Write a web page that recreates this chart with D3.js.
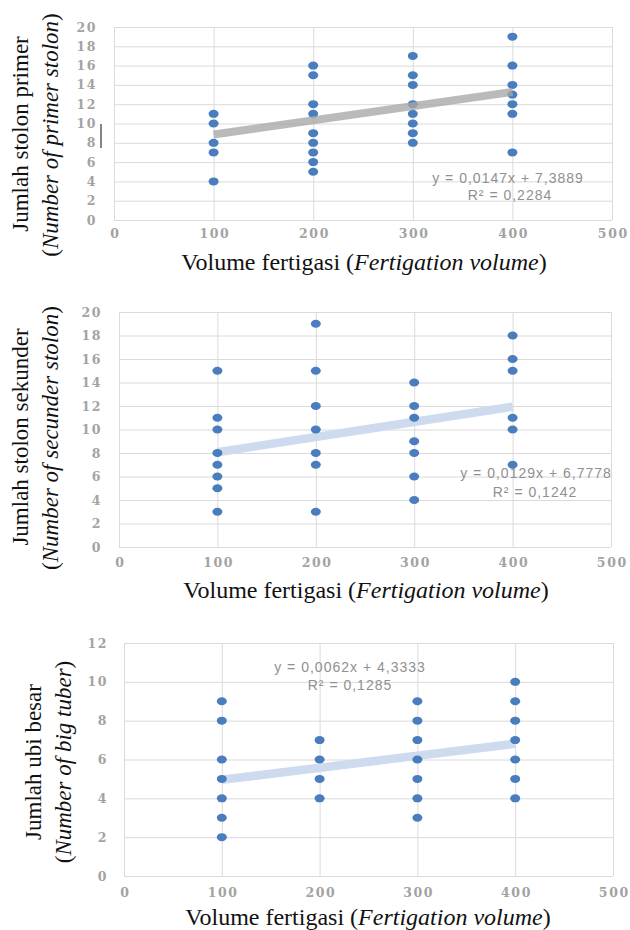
<!DOCTYPE html>
<html>
<head>
<meta charset="utf-8">
<script src="https://cdn.jsdelivr.net/npm/d3@7"></script>
<style>
  html, body { margin: 0; padding: 0; background: #ffffff; }
  svg { display: block; }
  .tick text { font-family: "DejaVu Serif", serif; font-weight: bold; font-size: 12.5px; fill: #a3a3a3; letter-spacing: 1.6px; }
  .tick line { stroke: #dadada; stroke-width: 1; }
  .title { font-family: "Liberation Serif", "Times New Roman", serif; font-size: 23px; fill: #111; }
  .xtitle { font-size: 24px; }
  .eq { font-family: "Liberation Sans", Arial, sans-serif; font-size: 14px; fill: #909090; letter-spacing: 1px; }
</style>
</head>
<body>
<svg id="chart" width="630" height="930"></svg>
<script>
// ---------- DATA ----------
const volumes = [100, 200, 300, 400];
const xTicks = [0, 100, 200, 300, 400, 500];

// Panel 1: number of primer stolon (values at each volume)
const primerStolon = [
  [11, 10, 8, 7, 4],
  [16, 15, 12, 11, 9, 8, 7, 6, 5],
  [17, 15, 14, 12, 11, 10, 9, 8],
  [19, 16, 14, 13, 12, 11, 7]
];
// Panel 2: number of secunder stolon
const secunderStolon = [
  [15, 11, 10, 8, 7, 6, 5, 3],
  [19, 15, 12, 10, 8, 7, 3],
  [14, 12, 11, 9, 8, 6, 4],
  [18, 16, 15, 11, 10, 7]
];
// Panel 3: number of big tuber
const bigTuber = [
  [9, 8, 6, 5, 4, 3, 2],
  [7, 6, 5, 4],
  [9, 8, 7, 6, 5, 4, 3],
  [10, 9, 8, 7, 6, 5, 4]
];

const yTicksStolon = [0, 2, 4, 6, 8, 10, 12, 14, 16, 18, 20];
const yTicksTuber = [0, 2, 4, 6, 8, 10, 12];

const trendSlopes = [0.0147, 0.0129, 0.0062];
const trendIntercepts = [7.3889, 6.7778, 4.3333];
const equationLabels = ["y = 0,0147x + 7,3889", "y = 0,0129x + 6,7778", "y = 0,0062x + 4,3333"];
const r2Labels = ["R² = 0,2284", "R² = 0,1242", "R² = 0,1285"];

const yTitles = ["Jumlah stolon primer", "Jumlah stolon sekunder", "Jumlah ubi besar"];
const yTitlesEn = ["Number of primer stolon", "Number of secunder stolon", "Number of big tuber"];
const xTitle = "Volume fertigasi";
const xTitleEn = "Fertigation volume";

// ---------- LAYOUT ----------
const panels = [
  { data: primerStolon, yTicks: yTicksStolon, left: 114, right: 612, top: 27, bottom: 220,
    yPad: 17, xPad: 14, trendColor: "#a6a6a6", trendOpacity: 0.78, trendWidth: 8, trendOver: true,
    eq: [508, 183], r2: [510, 200], yT1: [20, 134], yT2: [50, 135], xT: [364, 270], stray: true },
  { data: secunderStolon, yTicks: yTicksStolon, left: 119, right: 611, top: 312, bottom: 547,
    yPad: 17, xPad: 16, trendColor: "#cedbee", trendOpacity: 1, trendWidth: 8.5, trendOver: false,
    eq: [536, 478], r2: [535, 497], yT1: [20, 437], yT2: [50, 438], xT: [366, 598], stray: false },
  { data: bigTuber, yTicks: yTicksTuber, left: 124, right: 613, top: 643, bottom: 876,
    yPad: 16, xPad: 17, trendColor: "#cedbee", trendOpacity: 1, trendWidth: 8.5, trendOver: false,
    eq: [350, 672], r2: [350, 690], yT1: [33, 762], yT2: [63, 762], xT: [368, 925], stray: false }
];

const svg = d3.select("#chart");

panels.forEach((p, i) => {
  const g = svg.append("g");
  const x = d3.scaleLinear().domain([0, 500]).range([p.left, p.right]);
  const yMax = d3.max(p.yTicks);
  const y = d3.scaleLinear().domain([0, yMax]).range([p.bottom, p.top]);

  // gridlines + tick labels via axes
  const yAxis = d3.axisLeft(y).tickValues(p.yTicks).tickSize(-(p.right - p.left)).tickPadding(p.yPad).tickFormat(d3.format("d"));
  const xAxis = d3.axisBottom(x).tickValues(xTicks).tickSize(-(p.bottom - p.top)).tickPadding(p.xPad).tickFormat(d3.format("d"));

  const gy = g.append("g").attr("transform", `translate(${p.left},0)`).call(yAxis);
  gy.select(".domain").remove();
  const gx = g.append("g").attr("transform", `translate(0,${p.bottom})`).call(xAxis);
  gx.select(".domain").remove();
  gx.selectAll(".tick text").attr("dy", "0.35em").attr("dx", "0.8px");

  // trend line
  const x0 = d3.min(volumes), x1 = d3.max(volumes);
  const drawTrend = () => g.append("line")
    .attr("x1", x(x0)).attr("y1", y(trendSlopes[i] * x0 + trendIntercepts[i]))
    .attr("x2", x(x1)).attr("y2", y(trendSlopes[i] * x1 + trendIntercepts[i]))
    .attr("stroke", p.trendColor).attr("stroke-opacity", p.trendOpacity)
    .attr("stroke-width", p.trendWidth);

  if (!p.trendOver) drawTrend();

  // points
  const pts = [];
  p.data.forEach((vals, k) => vals.forEach(v => pts.push({ x: volumes[k], y: v })));
  g.append("g").selectAll("ellipse").data(pts).join("ellipse")
    .attr("cx", d => x(d.x)).attr("cy", d => y(d.y))
    .attr("rx", 5).attr("ry", 4)
    .attr("fill", "#4a7dbd");

  if (p.trendOver) drawTrend();

  // equation
  g.append("text").attr("class", "eq").attr("x", p.eq[0]).attr("y", p.eq[1]).attr("text-anchor", "middle").text(equationLabels[i]);
  g.append("text").attr("class", "eq").attr("x", p.r2[0]).attr("y", p.r2[1]).attr("text-anchor", "middle").text(r2Labels[i]);

  // y titles
  g.append("text").attr("class", "title")
    .attr("transform", `translate(${p.yT1[0]},${p.yT1[1]}) rotate(-90)`)
    .attr("text-anchor", "middle").attr("dy", "0.35em").text(yTitles[i]);
  const t2 = g.append("text").attr("class", "title")
    .attr("transform", `translate(${p.yT2[0]},${p.yT2[1]}) rotate(-90)`)
    .attr("text-anchor", "middle").attr("dy", "0.35em");
  t2.append("tspan").text("(");
  t2.append("tspan").attr("font-style", "italic").text(yTitlesEn[i]);
  t2.append("tspan").text(")");

  // x title
  const xt = g.append("text").attr("class", "title xtitle").attr("x", p.xT[0]).attr("y", p.xT[1]).attr("text-anchor", "middle");
  xt.append("tspan").text(xTitle + " (");
  xt.append("tspan").attr("font-style", "italic").text(xTitleEn);
  xt.append("tspan").text(")");

  if (p.stray) {
    g.append("line").attr("x1", 101).attr("x2", 101).attr("y1", 124).attr("y2", 148)
      .attr("stroke", "#333").attr("stroke-width", 1.2);
  }
});
</script>
</body>
</html>
